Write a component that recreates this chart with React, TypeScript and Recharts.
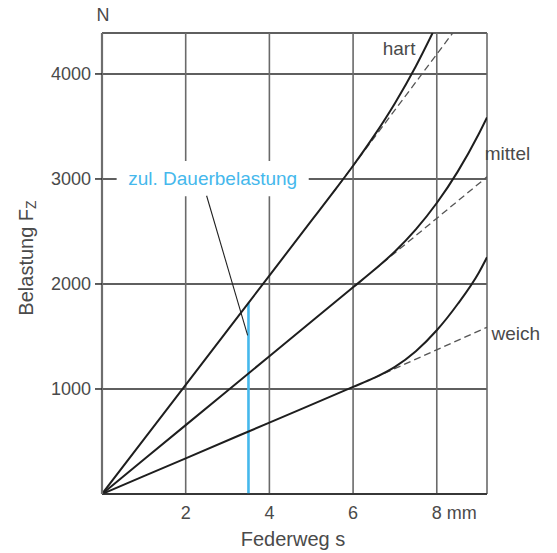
import React from 'react';
import {
  LineChart,
  Line,
  XAxis,
  YAxis,
  CartesianGrid,
  ReferenceLine,
  ReferenceArea,
  ReferenceDot,
} from 'recharts';

// Federweg s (mm) / Belastung F (N)
const hartS = [0, 2, 4, 5, 5.5, 6, 6.5, 7, 7.5, 7.9];
const hartF = [0, 1040, 2080, 2600, 2860, 3126, 3410, 3722, 4074, 4390];
const mittelS = [0, 2, 4, 6, 6.5, 7, 7.5, 8, 8.5, 9, 9.2];
const mittelF = [0, 656, 1312, 1968, 2132, 2310, 2520, 2771, 3070, 3426, 3586];
const weichS = [0, 2, 4, 6, 6.5, 7, 7.5, 8, 8.5, 9, 9.2];
const weichF = [0, 340, 680, 1020, 1105, 1211, 1360, 1559, 1809, 2105, 2255];

// linear (dashed) continuations
const hartLinS = [5.5, 8.38];
const hartLinF = [2860, 4390];
const mittelLinS = [6.5, 9.2];
const mittelLinF = [2132, 3020];
const weichLinS = [6.5, 9.2];
const weichLinF = [1105, 1588];

const xTicks = [2, 4, 6, 8];
const yTicks = [1000, 2000, 3000, 4000];

// zul. Dauerbelastung
const dauerS = 3.5;
const dauerF = 1820;
const leaderFrom = { x: 2.5, y: 2840 };
const leaderTo = { x: 3.48, y: 1510 };
const labelBox = { x1: 0.35, x2: 4.94, y1: 2835, y2: 3170 };

// series labels (anchor = text centre)
const seriesLabels = [
  { name: 'hart', s: 7.1, f: 4243 },
  { name: 'mittel', s: 9.69, f: 3243 },
  { name: 'weich', s: 9.89, f: 1529 },
];

const toPoints = (s: number[], f: number[]) => s.map((v, i) => ({ s: v, f: f[i] }));

const BLUE = '#45b8ec';
const TEXT = '#4a4a4a';

const XTick = (props: any) => {
  const { x, y, payload } = props;
  if (payload.value === 8) {
    return (
      <text x={x - 5} y={y + 17} fill={TEXT} fontSize={18} textAnchor="start">
        8 mm
      </text>
    );
  }
  return (
    <text x={x} y={y + 17} fill={TEXT} fontSize={18} textAnchor="middle">
      {payload.value}
    </text>
  );
};

const YTitles = () => (
  <g>
    <text x={103} y={21} fill={TEXT} fontSize={18} textAnchor="middle">
      N
    </text>
    <text
      x={33}
      y={258}
      transform="rotate(-90, 33, 258)"
      fill={TEXT}
      fontSize={20}
      textAnchor="middle"
    >
      Belastung F
      <tspan fontSize={14} dy={3}>
        Z
      </tspan>
    </text>
  </g>
);

const XTitle = () => (
  <text x={293} y={546} fill={TEXT} fontSize={20} textAnchor="middle">
    Federweg s
  </text>
);

export default function App() {
  return (
    <div
      style={{
        position: 'absolute',
        left: 0,
        top: 0,
        width: 557,
        height: 553,
        background: '#fff',
        fontFamily: '"Liberation Sans", Arial, sans-serif',
      }}
    >
      <LineChart width={557} height={553} margin={{ top: 33, right: 70, bottom: 0, left: 0 }}>
        <CartesianGrid horizontal={true} vertical={false} stroke="#2a2a2a" strokeWidth={1.5} />
        <CartesianGrid horizontal={false} vertical={true} stroke="#6a6a6a" strokeWidth={1.6} />
        <XAxis
          type="number"
          dataKey="s"
          domain={[0, 9.2]}
          ticks={xTicks}
          height={59}
          tickLine={false}
          axisLine={{ stroke: '#2a2a2a', strokeWidth: 1.6 }}
          tick={<XTick />}
          label={{ content: XTitle }}
          allowDataOverflow
        />
        <YAxis
          type="number"
          domain={[0, 4390]}
          ticks={yTicks}
          width={102}
          tickSize={7}
          tickMargin={4}
          tickLine={{ stroke: '#2a2a2a', strokeWidth: 1.5 }}
          axisLine={{ stroke: '#6e6e6e', strokeWidth: 2.2 }}
          tick={{ fill: TEXT, fontSize: 18 }}
          label={{ content: YTitles }}
          allowDataOverflow
        />
        <ReferenceArea
          x1={labelBox.x1}
          x2={labelBox.x2}
          y1={labelBox.y1}
          y2={labelBox.y2}
          fill="#fff"
          fillOpacity={1}
          stroke="none"
          label={{ value: 'zul. Dauerbelastung', position: 'center', fill: BLUE, fontSize: 19 }}
        />
        <ReferenceLine
          segment={[{ x: dauerS, y: 0 }, { x: dauerS, y: dauerF }]}
          stroke={BLUE}
          strokeWidth={2.6}
        />
        <ReferenceLine segment={[leaderFrom, leaderTo]} stroke="#222" strokeWidth={1.1} />

        <Line data={toPoints(hartLinS, hartLinF)} dataKey="f" type="linear" stroke="#555" strokeWidth={1.3} strokeDasharray="7 4" dot={false} isAnimationActive={false} />
        <Line data={toPoints(mittelLinS, mittelLinF)} dataKey="f" type="linear" stroke="#555" strokeWidth={1.3} strokeDasharray="7 4" dot={false} isAnimationActive={false} />
        <Line data={toPoints(weichLinS, weichLinF)} dataKey="f" type="linear" stroke="#555" strokeWidth={1.3} strokeDasharray="7 4" dot={false} isAnimationActive={false} />

        <Line data={toPoints(hartS, hartF)} dataKey="f" type="monotone" stroke="#1e1e1e" strokeWidth={2} dot={false} isAnimationActive={false} />
        <Line data={toPoints(mittelS, mittelF)} dataKey="f" type="monotone" stroke="#1e1e1e" strokeWidth={2} dot={false} isAnimationActive={false} />
        <Line data={toPoints(weichS, weichF)} dataKey="f" type="monotone" stroke="#1e1e1e" strokeWidth={2} dot={false} isAnimationActive={false} />

        {seriesLabels.map((l) => (
          <ReferenceDot
            key={l.name}
            x={l.s}
            y={l.f}
            r={0}
            fill="none"
            stroke="none"
            ifOverflow="visible"
            label={{ value: l.name, position: 'center', fill: TEXT, fontSize: 19 }}
          />
        ))}
      </LineChart>
    </div>
  );
}
